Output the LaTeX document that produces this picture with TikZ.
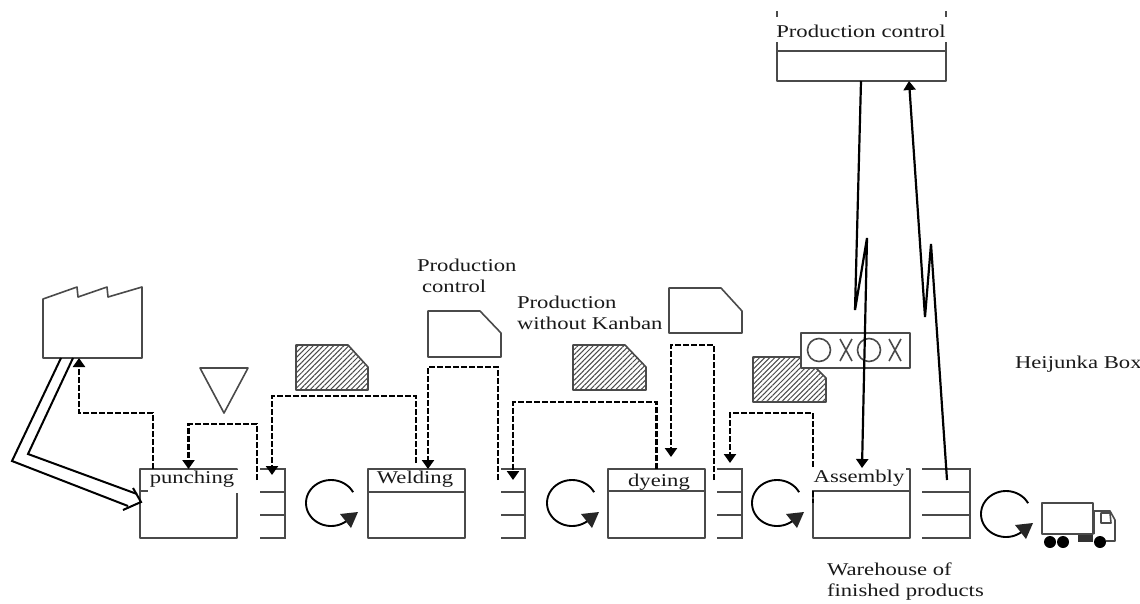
\documentclass[tikz,border=0pt]{standalone}
\usepackage{graphicx}
\usepackage{fontspec}
\setmainfont{Liberation Serif}
\usetikzlibrary{arrows.meta,patterns.meta}
\definecolor{ln}{HTML}{4A4A4A}
\definecolor{tx}{HTML}{1A1A1A}
\newcommand{\sx}[1]{\scalebox{1.26}[1]{#1}}
\tikzset{
  shapeline/.style={draw=ln,line width=1.6pt,line join=round},
  procbox/.style={shapeline,rectangle,minimum width=97pt,minimum height=69pt,inner sep=0pt,outer sep=0pt},
  lab/.style={inner sep=0pt,outer sep=0pt,text=tx,align=left,font=\fontsize{18}{21}\selectfont},
  dsh/.style={draw=black,line width=2.6pt,dash pattern=on 6pt off 2pt},
  dtip/.style={dsh,-{Triangle[width=12pt,length=9pt,fill=black]}},
  bolt/.style={draw=black,line width=2.2pt,line join=miter},
  btip/.style={bolt,-{Triangle[width=12pt,length=9pt,fill=black]}},
  hatched/.style={shapeline,pattern={Lines[angle=45,distance=3.6pt,line width=1pt]},pattern color=ln},
  stackline/.style={draw=ln,line width=1.6pt}
}
% stack: name, left x, right x
\newcommand{\stackbox}[3]{%
  \coordinate (#1-tl) at (#2,469);
  \coordinate (#1-br) at (#3,538);
  \draw[stackline] (#2,469) -- (#3,469) -- (#3,538) -- (#2,538);
  \draw[stackline] (#2,492) -- (#3,492);
  \draw[stackline] (#2,515) -- (#3,515);
}
% circular arrow: name, centre x, centre y
\newcommand{\rotarrow}[3]{%
  \coordinate (#1) at (#2,#3);
  \draw[black,line width=1.9pt] plot[domain=28:320,samples=50,smooth] ({#2+25*cos(\x)},{#3-23*sin(\x)});
  \fill[black!85] (#2+9,#3+11) -- (#2+27,#3+9) -- (#2+20,#3+25) -- cycle;
}
\begin{document}
\begin{tikzpicture}[x=1pt,y=-1pt]
\useasboundingbox (0,0) rectangle (1140,603);
\fill[white] (0,0) rectangle (1140,603);

% factory
\node[inner sep=0pt] (factory) at (92.5,322.5) {};
\draw[shapeline] (43,299) -- (77,287) -- (78,297) -- (107,287) -- (108,297) -- (142,287) -- (142,358) -- (43,358) -- cycle;

% process boxes
\node[procbox] (punch) at (188.5,503.5) {};
\node[procbox] (weld) at (416.5,503.5) {};
\node[procbox] (dye) at (656.5,503.5) {};
\node[procbox] (assy) at (861.5,503.5) {};
\draw[shapeline] (punch.west |- 0,491) -- (punch.east |- 0,491);
\draw[shapeline] (weld.west |- 0,492) -- (weld.east |- 0,492);
\draw[shapeline] (dye.west |- 0,491) -- (dye.east |- 0,491);
\draw[shapeline] (assy.west |- 0,491) -- (assy.east |- 0,491);

% stacks
\stackbox{s1}{260}{285}
\stackbox{s2}{501}{525}
\stackbox{s3}{717}{742}
\stackbox{s4}{922}{970}

% box headers with their white backgrounds
\fill[white] (148,470.2) rectangle (238,492.5);
\node[lab] (punchlab) at (192,479) {\sx{punching}};
\fill[white] (372,471) rectangle (463,490);
\node[lab] (weldlab) at (415,479) {\sx{Welding}};
\fill[white] (623,471) rectangle (692,489);
\node[lab] (dyelab) at (659,482) {\sx{dyeing}};
\fill[white] (812,462) rectangle (906,489.5);
\node[lab] (assylab) at (859,478) {\sx{Assembly}};

% triangle
\node[inner sep=0pt] (tri) at (224,385) {};
\draw[shapeline] (200,368) -- (248,368) -- (224,413) -- cycle;

% kanbans
\node[inner sep=0pt] (kh1) at (332,367) {};
\draw[hatched] (296,345) -- (348,345) -- (368,367) -- (368,390) -- (296,390) -- cycle;
\node[inner sep=0pt] (kw1) at (464,334) {};
\draw[shapeline] (428,311) -- (480,311) -- (501,333) -- (501,357) -- (428,357) -- cycle;
\node[inner sep=0pt] (kh2) at (609,367) {};
\draw[hatched] (573,345) -- (625,345) -- (646,367) -- (646,390) -- (573,390) -- cycle;
\node[inner sep=0pt] (kw2) at (705,310) {};
\draw[shapeline] (669,288) -- (721,288) -- (742,311) -- (742,333) -- (669,333) -- cycle;
\node[inner sep=0pt] (kh3) at (789,380) {};
\draw[hatched] (753,357) -- (805,357) -- (826,378) -- (826,402) -- (753,402) -- cycle;

% heijunka box
\node[shapeline,fill=white,minimum width=109pt,minimum height=35pt,inner sep=0pt,outer sep=0pt] (hbox) at (855.5,350.5) {};
\draw[shapeline] (819,350) circle[radius=11.5pt];
\draw[shapeline] (869,350) circle[radius=11.5pt];
\draw[shapeline] (840,339) -- (852,361) (852,339) -- (840,361);
\draw[shapeline] (889,339) -- (901,361) (901,339) -- (889,361);

% production control box
\node[draw=none,inner sep=0pt,minimum width=169pt,minimum height=30pt] (pc) at (861.5,66) {};
\draw[shapeline] (777,51) -- (946,51);
\draw[shapeline] (777,42) -- (777,81) -- (946,81) -- (946,42);
\draw[shapeline] (777,11) -- (777,17) (946,11) -- (946,17);
\node[lab] (pclab) at (861,31) {\sx{Production control}};

% push arrow
\coordinate (pa) at (61,358);
\coordinate (pb) at (73,358);
\draw[black,line width=2pt,line join=miter] (pa) -- (12,461) -- (128,506);
\draw[black,line width=2pt,line join=miter] (pb) -- (28,454) -- (137,494);
\draw[black,line width=2pt,line join=miter] (133,488) -- (141,502) -- (123,510);

% dashed connectors
\draw[dtip] ([xshift=-35.5pt]punch.north) -- ++(0,-56) -| ([xshift=-13.5pt]factory.south |- 0,358);
\coordinate (s1up) at (257,480);
\draw[dtip] (s1up) |- (220,424) -| (punch.north);
\draw[dtip] (416,463) |- (340,396) -| (272,475);
\draw[dtip] (498,480) |- (460,367) -| (weld.north -| 428,0);
\draw[dtip] (dye.north) |- (580,402) -| (513,480);
\draw[dtip] (714,480) |- (690,345) -| (671,457);
\draw[dtip] (813,467) |- (770,413) -| (730,463);
\draw[dsh] (813,491) -- (813,503);

% electronic information arrows
\draw[btip] (861,81) -- (855,310) -- (867,238) -- (862,468);
\draw[btip] (947,480) -- (931,244) -- (925,317) -- (909,81);

% circular arrows
\rotarrow{r1}{331}{503}
\rotarrow{r2}{572}{503}
\rotarrow{r3}{777}{503}
\rotarrow{r4}{1006}{514}

% truck
\node[shapeline,rectangle,minimum width=51pt,minimum height=31pt,inner sep=0pt,outer sep=0pt] (truck) at (1067.5,518.5) {};
\draw[shapeline] (1094,511) -- (1110,511) -- (1115,520) -- (1115,541) -- (1106,541) (1094,511) -- (1094,534);
\draw[shapeline] (1101,513) -- (1110,513) -- (1111,523) -- (1101,523) -- cycle;
\fill[black!80] (1078,535) rectangle (1093,542);
\fill[black] (1050,542) circle[radius=6pt] (1063,542) circle[radius=6pt] (1100,542) circle[radius=6pt];

% labels
\node[lab,anchor=west] (l1) at (417,265) {\sx{Production}};
\node[lab,anchor=west] (l2) at (422,286) {\sx{control}};
\node[lab,anchor=west] (l3) at (517,312.5) {\sx{Production}\\\sx{without Kanban}};
\node[lab,anchor=west] (l4) at (1015,364) {\sx{Heijunka Box}};
\node[lab,anchor=west] (l5) at (827,581.5) {\sx{Warehouse of}\\\sx{finished products}};
\end{tikzpicture}
\end{document}
